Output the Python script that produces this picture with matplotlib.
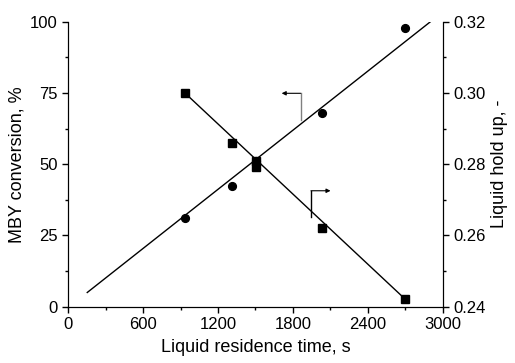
import matplotlib
matplotlib.use("Agg")
import matplotlib.pyplot as plt
from matplotlib.ticker import MultipleLocator

plt.rcParams['font.family'] = ['Liberation Sans', 'DejaVu Sans']

# MBY conversion (left axis)
conv_time = [938, 1314, 1505, 2037, 2701]
conv = [31.0, 42.5, 51.0, 67.9, 97.7]
conv_fit_time = [152, 2928]
conv_fit = [5.0, 100.9]

# liquid hold up (right axis)
hold_time = [938, 1314, 1505, 1505, 2037, 2701]
hold = [0.2999, 0.2859, 0.2808, 0.2791, 0.2620, 0.2421]
hold_fit_time = [938, 2701]
hold_fit = [0.2999, 0.2421]

fig = plt.figure(figsize=(5.15, 3.63), dpi=100)
ax = fig.add_axes([0.1326, 0.155, 0.7268, 0.785])
ax2 = ax.twinx()

ax.plot(conv_fit_time, conv_fit, color='black', lw=1)
ax.plot(conv_time, conv, 'o', color='black', ms=5.6)

ax2.plot(hold_fit_time, hold_fit, color='black', lw=1)
ax2.plot(hold_time, hold, 's', color='black', ms=5.6)

# pointer to left axis
ax.plot([1862, 1862], [65.5, 74.9], color='gray', lw=1)
ax.annotate('', xy=(1710, 74.9), xytext=(1862, 74.9),
            arrowprops=dict(arrowstyle='-|>', color='black', lw=0.8,
                            mutation_scale=6, shrinkA=0, shrinkB=0))
# pointer to right axis
ax.plot([1945, 1945], [31.6, 40.7], color='black', lw=1)
ax.annotate('', xy=(2102, 40.7), xytext=(1945, 40.7),
            arrowprops=dict(arrowstyle='-|>', color='black', lw=0.8,
                            mutation_scale=6, shrinkA=0, shrinkB=0))

ax.set_xlim(0, 3000)
ax.set_ylim(0, 100)
ax2.set_ylim(0.24, 0.32)

ax.xaxis.set_major_locator(MultipleLocator(600))
ax.xaxis.set_minor_locator(MultipleLocator(300))
ax.yaxis.set_major_locator(MultipleLocator(25))
ax.yaxis.set_minor_locator(MultipleLocator(12.5))
ax2.yaxis.set_major_locator(MultipleLocator(0.02))
ax2.yaxis.set_minor_locator(MultipleLocator(0.01))
ax2.set_yticklabels([f'{v:.2f}' for v in ax2.get_yticks()])

for a in (ax, ax2):
    a.spines['top'].set_visible(False)
    a.tick_params(which='major', direction='out', length=4, width=1, labelsize=12)
    a.tick_params(which='minor', direction='out', length=2.5, width=1)

ax.set_xlabel('Liquid residence time, s', fontsize=13, labelpad=5)
ax.set_ylabel('MBY conversion, %', fontsize=13, labelpad=3)
ax2.set_ylabel('Liquid hold up, -', fontsize=13, labelpad=4)

fig.savefig('out.png', dpi=100)
